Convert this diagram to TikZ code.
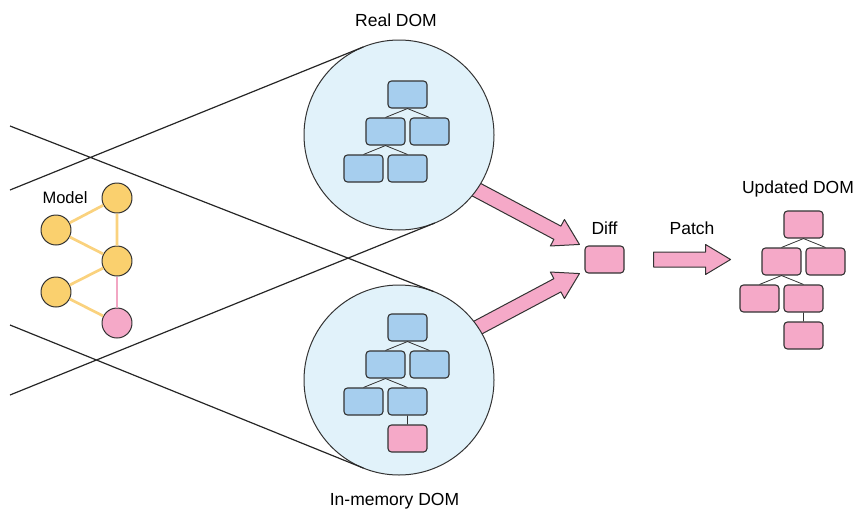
\documentclass[tikz,border=0pt]{standalone}
\usepackage{fontspec}
\setmainfont{Liberation Sans}
\usetikzlibrary{positioning,calc,shapes.arrows}

\definecolor{domblue}{HTML}{A6CEEE}
\definecolor{lensblue}{HTML}{E1F2FA}
\definecolor{diffpink}{HTML}{F5A9C8}
\definecolor{modelgold}{HTML}{FAD06E}
\definecolor{linkgold}{HTML}{FAD27E}
\definecolor{linkpink}{HTML}{F2A6C3}
\definecolor{edgegray}{HTML}{333333}

\begin{document}
\begin{tikzpicture}[
	%Environment config
	x=1pt, y=-1pt,
	font=\fontsize{17.5}{21}\selectfont,
	line join=round,
	%Environment styles
	DomBox/.style={draw=edgegray, fill=domblue, rounded corners=3.5pt,
		minimum width=39pt, minimum height=27pt, inner sep=0pt, line width=1.1pt},
	PatchBox/.style={DomBox, fill=diffpink},
	Lens/.style={circle, draw=edgegray, fill=lensblue, minimum size=190pt,
		inner sep=0pt, outer sep=0pt, line width=1pt},
	ModelNode/.style={circle, draw=edgegray, fill=modelgold, minimum size=30pt,
		inner sep=0pt, line width=1pt},
	FatArrow/.style={single arrow, draw=edgegray, fill=diffpink, line width=1pt,
		minimum width=29pt, single arrow head extend=7.5pt,
		single arrow tip angle=62, inner xsep=0pt, inner ysep=7pt, outer sep=0pt},
	Funnel/.style={line width=1.2pt, draw=black!85},
	TreeLine/.style={line width=0.8pt, draw=edgegray}
	]
	\useasboundingbox (0,0) rectangle (859,509);

	%centres of the two views
	\coordinate (realc) at (399,135);
	\coordinate (memc) at (399,380);

	%diff box and the fat arrows (under the circles)
	\node[PatchBox] (diff) at (604.5,259.5) {};
	\node[FatArrow, minimum height=130pt, rotate=-28, anchor=tip] (toreal)
		at ($(diff.north west)+(-5,-1)$) {};
	\node[FatArrow, minimum height=130pt, rotate=28, anchor=tip] (tomem)
		at ($(diff.south west)+(-5,0)$) {};
	\node[FatArrow, minimum height=77pt, anchor=tail] (patch)
		at ($(diff.east)+(29,0)$) {};

	%the two views
	\node[Lens] (real) at (realc) {};
	\node[Lens] (mem) at (memc) {};

	\path
	(realc) ++(8.5,-40.5) node[DomBox](r1){}
	++(-22,37) node[DomBox](r2){}
	++(44,0) node[DomBox](r3){}
	++(-66,37) node[DomBox](r4){}
	++(44,0) node[DomBox](r5){};

	\path
	(memc) ++(8.5,-52.5) node[DomBox](m1){}
	++(-22,37) node[DomBox](m2){}
	++(44,0) node[DomBox](m3){}
	++(-66,37) node[DomBox](m4){}
	++(44,0) node[DomBox](m5){}
	++(0,37) node[PatchBox](m6){};

	\path
	(803.5,224.5) node[PatchBox](u1){}
	++(-22,37) node[PatchBox](u2){}
	++(44,0) node[PatchBox](u3){}
	++(-66,37) node[PatchBox](u4){}
	++(44,0) node[PatchBox](u5){}
	++(0,37) node[PatchBox](u6){};

	\draw[TreeLine]
	(r1.south) -- (r2.north) (r1.south) -- (r3.north)
	(r2.south) -- (r4.north) (r2.south) -- (r5.north)
	(m1.south) -- (m2.north) (m1.south) -- (m3.north)
	(m2.south) -- (m4.north) (m2.south) -- (m5.north)
	(m5.south) -- (m6.north)
	(u1.south) -- (u2.north) (u1.south) -- (u3.north)
	(u2.south) -- (u4.north) (u2.south) -- (u5.north)
	(u5.south) -- (u6.north);

	%funnel lines
	\coordinate (fa) at (10,126);
	\coordinate (fb) at (10,190);
	\coordinate (fc) at (10,325);
	\coordinate (fd) at (10,395);
	\draw[Funnel]
	(fa) -- (tangent cs:node=mem, point={(fa)}, solution=2)
	(fb) -- (tangent cs:node=real, point={(fb)}, solution=2)
	(fc) -- (tangent cs:node=mem, point={(fc)}, solution=1)
	(fd) -- (tangent cs:node=real, point={(fd)}, solution=1);

	%model
	\path
	(117,198) node[ModelNode](ma){}
	(56,230) node[ModelNode](mb){}
	(117,261) node[ModelNode](mc){}
	(56,292) node[ModelNode](md){}
	(117,323) node[ModelNode, fill=diffpink](me){};
	\draw[line width=2.7pt, draw=linkgold]
	(ma) -- (mb) (ma) -- (mc) (mb) -- (mc) (mc) -- (md) (md) -- (me);
	\draw[line width=2.7pt, draw=linkpink] (mc) -- (me);

	%labels
	\node[anchor=base] (reallbl) at (396,26) {Real DOM};
	\node[anchor=base] (memlbl) at (394.5,505) {In-memory DOM};
	\node[anchor=base east, font=\fontsize{16.5}{20}\selectfont] (modellbl) at (91,203) {Model};
	\node[anchor=base] (difflbl) at ($(diff.north)+(0,-11)$) {Diff};
	\node[anchor=base] (patchlbl) at ($($(patch.tail)!0.5!(patch.tip)$)+(0,-25)$) {Patch};
	\node[anchor=base] (updlbl) at (798,193) {Updated DOM};
\end{tikzpicture}
\end{document}
